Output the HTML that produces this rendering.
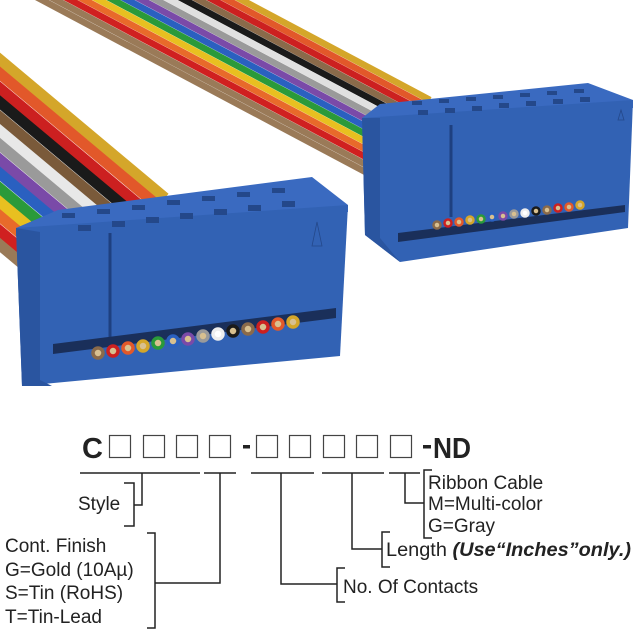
<!DOCTYPE html>
<html><head><meta charset="utf-8"><style>
html,body{margin:0;padding:0;background:#fff;}
svg{display:block;}
text{font-family:"Liberation Sans",Arial,sans-serif;fill:#222;}
</style></head><body>
<svg width="640" height="640" viewBox="0 0 640 640" xmlns="http://www.w3.org/2000/svg">
<rect width="640" height="640" fill="#fff"/>
<!-- Right cable -->
<g stroke-width="6.5" stroke-linecap="butt">
<line x1="67" y1="-93" x2="430" y2="100" stroke="#d4a62a"/>
<line x1="64" y1="-87" x2="427" y2="106" stroke="#e2582a"/>
<line x1="61" y1="-81" x2="424" y2="112" stroke="#cc2020"/>
<line x1="58" y1="-75" x2="421" y2="118" stroke="#8a6a4a"/>
<line x1="55" y1="-69" x2="418" y2="124" stroke="#1a1a1a"/>
<line x1="52" y1="-63" x2="415" y2="130" stroke="#e0e0e0"/>
<line x1="49" y1="-57" x2="412" y2="136" stroke="#9a9a9a"/>
<line x1="46" y1="-51" x2="409" y2="142" stroke="#7a4aa8"/>
<line x1="43" y1="-45" x2="406" y2="148" stroke="#2a60c0"/>
<line x1="40" y1="-39" x2="403" y2="154" stroke="#2a9a3a"/>
<line x1="37" y1="-33" x2="400" y2="160" stroke="#e8c020"/>
<line x1="34" y1="-27" x2="397" y2="166" stroke="#e86a2a"/>
<line x1="31" y1="-21" x2="394" y2="172" stroke="#d02020"/>
<line x1="28" y1="-15" x2="391" y2="178" stroke="#9a7a58"/>
<line x1="25" y1="-9" x2="388" y2="184" stroke="#9a7a58"/>
</g>
<!-- Left cable -->
<g stroke-width="11" stroke-linecap="butt">
<line x1="-75" y1="0" x2="165" y2="201" stroke="#d4a62a" transform="translate(0,-3)"/>
<line x1="-82" y1="8" x2="158" y2="209" stroke="#e2582a" transform="translate(0,-3)"/>
<line x1="-89" y1="17" x2="151" y2="218" stroke="#cc2020" transform="translate(0,-3)"/>
<line x1="-96" y1="25" x2="144" y2="226" stroke="#1a1a1a" transform="translate(0,-3)"/>
<line x1="-103" y1="34" x2="137" y2="235" stroke="#7a5a3a" transform="translate(0,-3)"/>
<line x1="-110" y1="42" x2="130" y2="243" stroke="#e8e8e8" transform="translate(0,-3)"/>
<line x1="-117" y1="50" x2="123" y2="251" stroke="#9a9a9a" transform="translate(0,-3)"/>
<line x1="-124" y1="59" x2="116" y2="260" stroke="#7a4aa8" transform="translate(0,-3)"/>
<line x1="-131" y1="67" x2="109" y2="268" stroke="#2a60c0" transform="translate(0,-3)"/>
<line x1="-138" y1="76" x2="102" y2="277" stroke="#2a9a3a" transform="translate(0,-3)"/>
<line x1="-145" y1="84" x2="95" y2="285" stroke="#e8c020" transform="translate(0,-3)"/>
<line x1="-152" y1="92" x2="88" y2="293" stroke="#e86a2a" transform="translate(0,-3)"/>
<line x1="-159" y1="101" x2="81" y2="302" stroke="#d02020" transform="translate(0,-3)"/>
<line x1="-166" y1="109" x2="74" y2="310" stroke="#9a7a58" transform="translate(0,-3)"/>
</g>

<!-- Right connector -->
<polygon points="362,118 380,104 588,83 633,100 633,108 362,128" fill="#3a6ac0"/>
<polygon points="362,118 633,100 628,228 400,262 365,235" fill="#3262b4"/>
<polygon points="362,118 380,118 380,238 400,262 365,235" fill="#2a55a0"/>
<line x1="451" y1="125" x2="451" y2="217" stroke="#1e4080" stroke-width="3"/>
<polygon points="398,233 625,205 625,212 398,242" fill="#1a2f5a"/>
<polygon points="618,120 624,120 621,110" fill="none" stroke="#24488a" stroke-width="0.8"/>
<g fill="#24488a">
<rect x="418" y="110" width="10" height="5"/><rect x="445" y="108" width="10" height="5"/><rect x="472" y="106" width="10" height="5"/><rect x="499" y="103" width="10" height="5"/><rect x="526" y="101" width="10" height="5"/><rect x="553" y="99" width="10" height="5"/><rect x="580" y="97" width="10" height="5"/>
<rect x="412" y="101" width="10" height="4"/><rect x="439" y="99" width="10" height="4"/><rect x="466" y="97" width="10" height="4"/><rect x="493" y="95" width="10" height="4"/><rect x="520" y="93" width="10" height="4"/><rect x="547" y="91" width="10" height="4"/><rect x="574" y="89" width="10" height="4"/>
</g>
<g stroke-width="2.5" fill="#d8c090">
<circle cx="437" cy="225" r="3.5" stroke="#8a6a4a"/><circle cx="448" cy="223" r="3.5" stroke="#cc2020"/><circle cx="459" cy="222" r="3.5" stroke="#e2582a"/><circle cx="470" cy="220" r="3.5" stroke="#d4a62a"/><circle cx="481" cy="219" r="3.5" stroke="#2a9a3a"/><circle cx="492" cy="217" r="3.5" stroke="#2a60c0"/><circle cx="503" cy="216" r="3.5" stroke="#7a4aa8"/><circle cx="514" cy="214" r="3.5" stroke="#9a9a9a"/><circle cx="525" cy="213" r="3.5" stroke="#eee" fill="#fff"/><circle cx="536" cy="211" r="3.5" stroke="#1a1a1a"/><circle cx="547" cy="210" r="3.5" stroke="#8a6a4a"/><circle cx="558" cy="208" r="3.5" stroke="#cc2020"/><circle cx="569" cy="207" r="3.5" stroke="#e2582a"/><circle cx="580" cy="205" r="3.5" stroke="#d4a62a"/>
</g>

<!-- Left connector -->
<polygon points="16,228 58,210 312,177 348,205 348,212 16,236" fill="#3a6ac0"/>
<polygon points="16,228 348,205 340,356 22,386" fill="#3262b4"/>
<polygon points="16,228 40,232 40,380 52,386 22,386" fill="#2a55a0"/>
<line x1="110" y1="233" x2="110" y2="353" stroke="#1e4080" stroke-width="3"/>
<polygon points="53,344 336,308 336,318 53,354" fill="#1a2f5a"/>
<polygon points="312,246 322,246 317,222" fill="none" stroke="#24488a" stroke-width="0.8"/>
<g fill="#24488a">
<rect x="78" y="225" width="13" height="6"/><rect x="112" y="221" width="13" height="6"/><rect x="146" y="217" width="13" height="6"/><rect x="180" y="213" width="13" height="6"/><rect x="214" y="209" width="13" height="6"/><rect x="248" y="205" width="13" height="6"/><rect x="282" y="201" width="13" height="6"/>
<rect x="62" y="213" width="13" height="5"/><rect x="97" y="209" width="13" height="5"/><rect x="132" y="205" width="13" height="5"/><rect x="167" y="200" width="13" height="5"/><rect x="202" y="196" width="13" height="5"/><rect x="237" y="192" width="13" height="5"/><rect x="272" y="188" width="13" height="5"/>
</g>
<g stroke-width="3.5" fill="#d8c090">
<circle cx="98" cy="353" r="5" stroke="#8a6a4a"/><circle cx="113" cy="351" r="5" stroke="#cc2020"/><circle cx="128" cy="348" r="5" stroke="#e2582a"/><circle cx="143" cy="346" r="5" stroke="#d4a62a"/><circle cx="158" cy="343" r="5" stroke="#2a9a3a"/><circle cx="173" cy="341" r="5" stroke="#2a60c0"/><circle cx="188" cy="339" r="5" stroke="#7a4aa8"/><circle cx="203" cy="336" r="5" stroke="#9a9a9a"/><circle cx="218" cy="334" r="5" stroke="#eee" fill="#fff"/><circle cx="233" cy="331" r="5" stroke="#1a1a1a"/><circle cx="248" cy="329" r="5" stroke="#8a6a4a"/><circle cx="263" cy="327" r="5" stroke="#cc2020"/><circle cx="278" cy="324" r="5" stroke="#e2582a"/><circle cx="293" cy="322" r="5" stroke="#d4a62a"/>
</g>

<!-- Part number diagram -->
<g font-size="29" font-weight="bold">
<text x="82" y="458">C</text>
<text x="433" y="458" textLength="38" lengthAdjust="spacingAndGlyphs">ND</text>
</g>
<g fill="#222">
<rect x="243" y="445" width="7" height="3.5"/>
<rect x="423" y="445" width="8" height="3.5"/>
</g>
<g stroke="#444" stroke-width="1.2" fill="none">
<rect x="109.5" y="435.5" width="21" height="22"/><rect x="143.5" y="435.5" width="21" height="22"/><rect x="176.5" y="435.5" width="21" height="22"/><rect x="209.5" y="435.5" width="21" height="22"/>
<rect x="256.5" y="435.5" width="21" height="22"/><rect x="289.5" y="435.5" width="21" height="22"/><rect x="323.5" y="435.5" width="21" height="22"/><rect x="356.5" y="435.5" width="21" height="22"/><rect x="390.5" y="435.5" width="21" height="22"/>
</g>
<g stroke="#222" stroke-width="1.5" fill="none">
<line x1="80" y1="473" x2="200" y2="473"/><line x1="204" y1="473" x2="236" y2="473"/><line x1="251" y1="473" x2="314" y2="473"/><line x1="322" y1="473" x2="384" y2="473"/><line x1="389" y1="473" x2="420" y2="473"/>
<polyline points="124,483 134,483 134,526 124,526"/><polyline points="142,473 142,505 134,505"/>
<polyline points="147,533 155,533 155,628 147,628"/><polyline points="220,473 220,583 155,583"/>
<polyline points="281,473 281,584 337,584"/><polyline points="345,568 337,568 337,602 345,602"/>
<polyline points="352,473 352,549 382,549"/><polyline points="390,532 382,532 382,567 390,567"/>
<polyline points="405,473 405,503 424,503"/><polyline points="432,470 424,470 424,538 432,538"/>
</g>
<g font-size="19">
<text x="78" y="510">Style</text>
<text x="5" y="552">Cont. Finish</text>
<text x="5" y="576">G=Gold (10Aµ)</text>
<text x="5" y="599">S=Tin (RoHS)</text>
<text x="5" y="623">T=Tin-Lead</text>
<text x="343" y="593">No. Of Contacts</text>
<text x="386" y="556" textLength="245" lengthAdjust="spacingAndGlyphs">Length <tspan font-weight="bold" font-style="italic">(Use“Inches”only.)</tspan></text>
<text x="428" y="489">Ribbon Cable</text>
<text x="428" y="510">M=Multi-color</text>
<text x="428" y="532">G=Gray</text>
</g>
</svg>
</body></html>
